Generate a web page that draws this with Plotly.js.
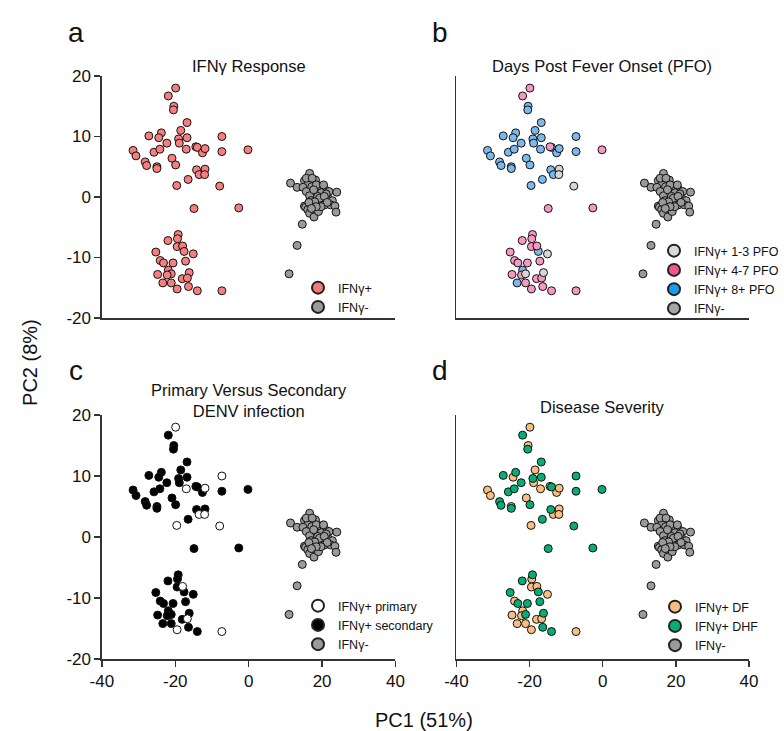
<!DOCTYPE html>
<html><head><meta charset="utf-8">
<script src="https://cdn.plot.ly/plotly-3.0.1.min.js"></script>
<style>html,body{margin:0;padding:0;background:#fff}#chart{width:784px;height:731px}</style>
</head><body><div id="chart"></div>
<script>
// IFNγ+ samples (same PCA coordinates in all four panels)
const posPC1 = [-19.9,-21.9,-20.4,-20.5,-16.8,-18.5,-27.2,-23.8,-24.5,-22.3,-19.1,-16.8,-18.9,-7.3,-31.5,-30.7,-25.8,-24.2,-17.0,-14.4,-14.0,-12.6,-11.9,-7.3,-0.2,-28.2,-27.8,-25.0,-25.0,-20.9,-19.9,-14.2,-11.9,-13.5,-12.0,-16.5,-19.6,-7.9,-14.9,-2.7,
  -19.2,-19.4,-22.0,-19.5,-18.0,-17.6,-25.3,-15.1,-24.1,-23.2,-20.6,-17.2,-24.8,-21.9,-21.1,-22.2,-16.2,-23.4,-21.1,-18.1,-16.7,-19.5,-16.4,-14.0,-7.3];
const posPC2 = [18.0,16.7,15.0,14.4,12.3,11.0,10.1,10.6,9.8,8.9,9.6,9.8,8.9,10.0,7.7,6.8,7.4,7.9,7.9,8.3,8.2,7.3,8.0,7.5,7.8,5.8,5.2,5.0,4.7,6.4,5.3,4.5,4.6,3.7,3.7,2.9,1.9,1.8,-1.9,-1.8,
  -6.2,-6.9,-7.2,-8.2,-8.1,-9.0,-9.1,-9.4,-10.5,-10.9,-10.9,-10.6,-12.8,-12.1,-12.7,-12.9,-12.5,-14.2,-14.2,-13.5,-13.4,-15.2,-14.8,-15.5,-15.5];
const pfoGroup = ['4-7','4-7','8+','8+','8+','8+','8+','8+','8+','8+','8+','8+','8+','8+','8+','8+','8+','8+','8+','4-7','8+','8+','8+','8+','4-7','8+','8+','8+','8+','8+','8+','8+','1-3','8+','1-3','8+','8+','1-3','4-7','4-7',
  '4-7','4-7','4-7','4-7','4-7','8+','4-7','1-3','4-7','4-7','4-7','4-7','4-7','8+','1-3','4-7','1-3','8+','4-7','4-7','4-7','4-7','4-7','4-7','4-7'];
const infection = ['primary','secondary','secondary','secondary','secondary','secondary','secondary','secondary','secondary','secondary','secondary','secondary','secondary','primary','secondary','secondary','secondary','secondary','primary','secondary','secondary','secondary','primary','secondary','secondary','secondary','secondary','secondary','secondary','secondary','secondary','secondary','secondary','primary','primary','secondary','primary','primary','secondary','secondary',
  'secondary','secondary','secondary','secondary','primary','secondary','secondary','secondary','secondary','secondary','secondary','secondary','secondary','secondary','secondary','secondary','secondary','secondary','secondary','secondary','primary','primary','secondary','secondary','primary'];
const severity = ['DF','DHF','DF','DHF','DHF','DF','DHF','DHF','DF','DHF','DHF','DHF','DF','DHF','DF','DF','DHF','DHF','DF','DF','DHF','DF','DF','DHF','DHF','DHF','DHF','DF','DHF','DF','DHF','DHF','DF','DF','DF','DHF','DF','DHF','DHF','DHF',
  'DHF','DF','DHF','DF','DF','DHF','DHF','DF','DF','DHF','DHF','DHF','DF','DF','DHF','DF','DHF','DF','DF','DF','DF','DF','DHF','DHF','DF'];
// IFNγ- samples
const negPC1 = [11.4,13.2,16.6,15.2,18.2,16.1,14.8,17.2,19.3,20.7,21.9,24.0,15.7,18.0,19.8,16.6,18.8,21.6,15.2,17.0,20.2,22.8,15.5,17.5,16.1,19.3,20.7,22.3,23.5,23.8,16.6,17.8,19.0,14.6,13.2,11.0,15.7,17.3,18.4,20.4,21.1,17.7,19.3,20.6,18.0,16.4,21.4,19.7,18.4,17.1];
const negPC2 = [2.3,1.6,3.9,2.7,2.8,2.1,1.6,1.7,1.8,1.3,0.9,0.8,0.9,0.6,0.7,0.2,0.1,-0.2,-1.5,-0.6,-0.7,-0.6,-1.7,-1.5,-2.1,-1.0,-1.3,-1.3,-1.5,-2.5,-2.7,-3.3,-2.4,-4.5,-8.0,-12.7,3.1,3.1,2.0,2.0,0.5,1.2,-0.2,0.1,-0.8,-0.9,-0.9,-1.6,-1.6,-1.9];
const xTicks = [-40,-20,0,20,40];
const yTicks = [-20,-10,0,10,20];

const W = 784, H = 731;
const fx = p => p / W, fy = p => 1 - p / H;
const FONT = 'Liberation Sans, Arial, sans-serif';
const pick = (arr, key, val) => arr.filter((_, i) => key[i] === val);

function pts(xs, ys, fill, ax) {
  return {type:'scatter', mode:'markers', x:xs, y:ys, xaxis:'x'+ax, yaxis:'y'+ax, showlegend:false, hoverinfo:'skip',
    marker:{size:8, color:fill, line:{color:'#111', width:1}}};
}
function leg(name, fill, ax, legendId) {
  return {type:'scatter', mode:'markers', x:[null], y:[null], xaxis:'x'+ax, yaxis:'y'+ax, name:name, legend:legendId, showlegend:true,
    marker:{size:8, color:fill, line:{color:'#222', width:1}}};
}
const NEG = '#9a9a9a';
const traces = [];
// Panel a
traces.push(pts(negPC1, negPC2, NEG, ''));
traces.push(pts(posPC1, posPC2, '#f77e7e', ''));
traces.push(leg('IFNγ+', '#f77777', '', 'legend'));
traces.push(leg('IFNγ-', NEG, '', 'legend'));
// Panel b
traces.push(pts(negPC1, negPC2, NEG, '2'));
const pfoFill = {'1-3':'#d6d6d6','4-7':'#f598c4','8+':'#7bb8ec'};
['8+','4-7','1-3'].forEach(g => traces.push(pts(pick(posPC1, pfoGroup, g), pick(posPC2, pfoGroup, g), pfoFill[g], '2')));
traces.push(leg('IFNγ+ 1-3 PFO', '#d9d9d9', '2', 'legend2'));
traces.push(leg('IFNγ+ 4-7 PFO', '#f0588c', '2', 'legend2'));
traces.push(leg('IFNγ+ 8+ PFO', '#1a9bf0', '2', 'legend2'));
traces.push(leg('IFNγ-', '#a6a6a6', '2', 'legend2'));
// Panel c
traces.push(pts(negPC1, negPC2, NEG, '3'));
traces.push(pts(pick(posPC1, infection, 'secondary'), pick(posPC2, infection, 'secondary'), '#000000', '3'));
traces.push(pts(pick(posPC1, infection, 'primary'), pick(posPC2, infection, 'primary'), '#ffffff', '3'));
traces.push(leg('IFNγ+ primary', '#ffffff', '3', 'legend3'));
traces.push(leg('IFNγ+ secondary', '#000000', '3', 'legend3'));
traces.push(leg('IFNγ-', NEG, '3', 'legend3'));
// Panel d
traces.push(pts(negPC1, negPC2, NEG, '4'));
traces.push(pts(pick(posPC1, severity, 'DF'), pick(posPC2, severity, 'DF'), '#f9bf80', '4'));
traces.push(pts(pick(posPC1, severity, 'DHF'), pick(posPC2, severity, 'DHF'), '#06ad74', '4'));
traces.push(leg('IFNγ+ DF', '#f9bf80', '4', 'legend4'));
traces.push(leg('IFNγ+ DHF', '#06ad74', '4', 'legend4'));
traces.push(leg('IFNγ-', NEG, '4', 'legend4'));

const L = [102, 457], R = [396, 750], T = [76, 415], B = [318, 659];
const AXC = '#333';
function xa(col, row, labels) {
  return {domain:[fx(L[col]), fx(R[col])], range:[-40,40], anchor: 'y' + ['', '2', '3', '4'][row*2+col],
    showline:true, linecolor:AXC, linewidth:1.5, showgrid:false, zeroline:false,
    ticks: labels ? 'outside' : '', ticklen:6, tickcolor:AXC, tickwidth:1.5, tickvals:xTicks, ticktext:xTicks.map(String),
    showticklabels: labels, tickfont:{family:FONT, size:17, color:'#111'}};
}
function ya(col, row) {
  return {domain:[fy(B[row]), fy(T[row])], range:[-20,20], anchor: 'x' + ['', '2', '3', '4'][row*2+col],
    showline:true, linecolor:AXC, linewidth:1.5, showgrid:false, zeroline:false,
    ticks: col === 0 ? 'outside' : '', ticklen:6, tickcolor:AXC, tickwidth:1.5, tickvals:yTicks, ticktext:yTicks.map(String),
    showticklabels: col === 0, tickfont:{family:FONT, size:17, color:'#111'}};
}
function legendAt(left, top) {
  return {x:fx(left), y:fy(top), xanchor:'left', yanchor:'top', bgcolor:'rgba(0,0,0,0)', borderwidth:0,
    font:{family:FONT, size:12.5, color:'#111'}, itemsizing:'constant', tracegroupgap:0, itemwidth:30};
}
const ann = (text, x, y, size, extra) => Object.assign({text:text, x:fx(x), y:fy(y), xref:'paper', yref:'paper', showarrow:false,
  font:{family:FONT, size:size, color:'#111'}, xanchor:'center', yanchor:'middle'}, extra || {});

const layout = {
  width:W, height:H, margin:{l:0, r:0, t:0, b:0}, paper_bgcolor:'#fff', plot_bgcolor:'rgba(0,0,0,0)',
  xaxis: xa(0,0,false), yaxis: ya(0,0),
  xaxis2: xa(1,0,false), yaxis2: ya(1,0),
  xaxis3: xa(0,1,true), yaxis3: ya(0,1),
  xaxis4: xa(1,1,true), yaxis4: ya(1,1),
  legend: legendAt(298, 273),
  legend2: legendAt(655, 236),
  legend3: legendAt(298, 591),
  legend4: legendAt(655, 592),
  annotations: [
    ann('a', 76, 32, 28), ann('b', 441, 32, 28), ann('c', 76, 370, 28), ann('d', 441, 370, 28),
    ann('IFNγ Response', 249, 66, 16.5), ann('Days Post Fever Onset (PFO)', 603, 66, 16.5),
    ann('Primary Versus Secondary<br>DENV infection', 249, 400, 16.5), ann('Disease Severity', 603, 407, 16.5),
    ann('PC2 (8%)', 30, 362, 20, {textangle:-90}), ann('PC1 (51%)', 425, 720, 20)
  ]
};
Plotly.newPlot('chart', traces, layout, {displayModeBar:false, staticPlot:true});
</script></body></html>
